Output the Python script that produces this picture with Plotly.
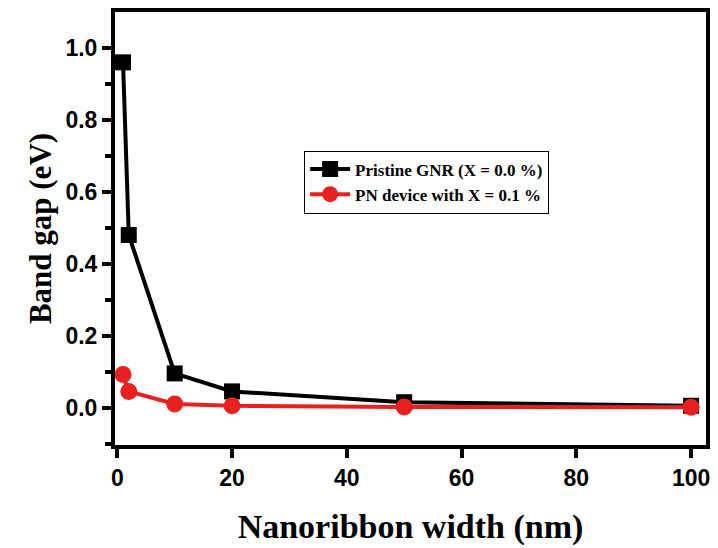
import plotly.graph_objects as go

widths = [1, 2, 10, 20, 50, 100]
pristine_gap = [0.96, 0.48, 0.095, 0.045, 0.015, 0.005]
pn_gap = [0.092, 0.045, 0.01, 0.005, 0.002, 0.001]
name_pristine = "Pristine GNR (X = 0.0 %)"
name_pn = "PN device with X = 0.1 %"

fig = go.Figure()
fig.add_trace(go.Scatter(x=widths, y=pristine_gap, mode="lines+markers", name=name_pristine,
                         line=dict(color="black", width=4),
                         marker=dict(symbol="square", size=16, color="black")))
fig.add_trace(go.Scatter(x=widths, y=pn_gap, mode="lines+markers", name=name_pn,
                         line=dict(color="#e8201f", width=4),
                         marker=dict(symbol="circle", size=17, color="#e8201f")))

tickfont = dict(family="Liberation Sans", size=23, color="black", weight="bold")

fig.update_layout(
    width=718, height=548,
    margin=dict(l=115, r=8, t=11, b=97),
    plot_bgcolor="white", paper_bgcolor="white",
    showlegend=True,
    legend=dict(x=0.32, y=0.68, xanchor="left", yanchor="top",
                bordercolor="black", borderwidth=1, bgcolor="white",
                font=dict(family="Liberation Serif", size=17, color="black", weight="bold"),
                tracegroupgap=0, itemwidth=40),
    xaxis=dict(range=[-0.4, 102.6], tickvals=[0, 20, 40, 60, 80, 100],
               ticks="outside", ticklen=9, tickwidth=4, tickcolor="black",
               showline=True, linewidth=4, linecolor="black", mirror=True,
               showgrid=False, zeroline=False,
               tickfont=tickfont,
               title=dict(text="Nanoribbon width (nm)",
                          font=dict(family="Liberation Serif", size=34, color="black", weight="bold"),
                          standoff=26)),
    yaxis=dict(range=[-0.104, 1.1], tickvals=[0.0, 0.2, 0.4, 0.6, 0.8, 1.0],
               tickformat=".1f",
               ticks="outside", ticklen=9, tickwidth=4, tickcolor="black",
               minor=dict(tickvals=[-0.1, 0.1, 0.3, 0.5, 0.7, 0.9], ticks="outside",
                          ticklen=6, tickwidth=4, tickcolor="black"),
               showline=True, linewidth=4, linecolor="black", mirror=True,
               showgrid=False, zeroline=False,
               tickfont=tickfont,
               title=dict(text="Band gap (eV)",
                          font=dict(family="Liberation Serif", size=31, color="black", weight="bold"),
                          standoff=6)),
)

fig.write_html("out.html")
